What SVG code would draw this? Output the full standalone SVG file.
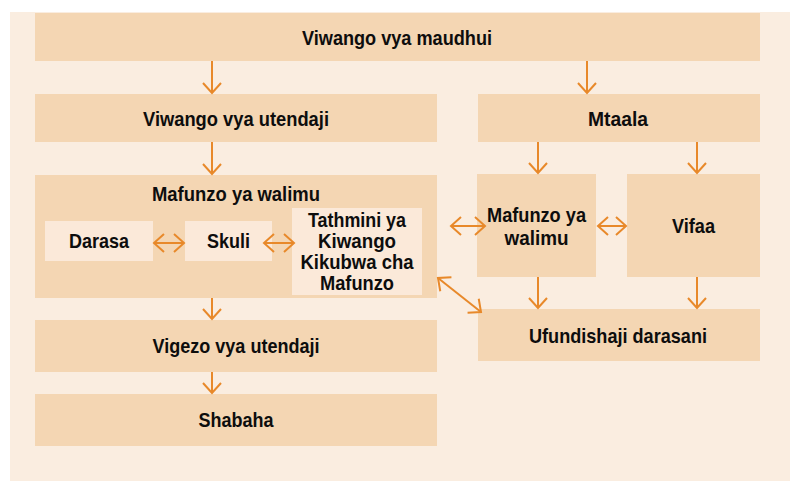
<svg xmlns="http://www.w3.org/2000/svg" width="790" height="481" viewBox="0 0 790 481">
<style>
.bg{fill:#FAEDE0}
.box{fill:#F4D6B3}
.inner{fill:#FBE9D9}
.t{font-family:"Liberation Sans",Arial,sans-serif;font-weight:bold;font-size:21px;fill:#0d0d0d;text-anchor:middle}
.c{stroke:#E8892A;stroke-width:2;fill:none}
</style>
<defs>
<marker id="ah" viewBox="-12 -11 14 22" markerWidth="14" markerHeight="22" refX="0" refY="0" markerUnits="userSpaceOnUse" orient="auto-start-reverse">
<path d="M-10,-9 L0,0 L-10,9" fill="none" stroke="#E8892A" stroke-width="2"/>
</marker>
</defs>
<rect class="bg" x="10" y="12" width="780" height="469"/>
<g id="n-maudhui"><rect class="box" x="35" y="13" width="725" height="48"/><text class="t" x="397" y="45" textLength="190" lengthAdjust="spacingAndGlyphs">Viwango vya maudhui</text></g>
<g id="n-utendaji"><rect class="box" x="35" y="94" width="402" height="48"/><text class="t" x="236" y="126" textLength="186" lengthAdjust="spacingAndGlyphs">Viwango vya utendaji</text></g>
<g id="n-mtaala"><rect class="box" x="478" y="94" width="282" height="48"/><text class="t" x="618" y="126" textLength="60" lengthAdjust="spacingAndGlyphs">Mtaala</text></g>
<g id="n-mafunzo-left"><rect class="box" x="35" y="175" width="402" height="123"/><text class="t" x="236" y="201" textLength="168" lengthAdjust="spacingAndGlyphs">Mafunzo ya walimu</text></g>
<g id="n-darasa"><rect class="inner" x="45" y="221" width="108" height="40"/><text class="t" x="99" y="248" textLength="60" lengthAdjust="spacingAndGlyphs">Darasa</text></g>
<g id="n-skuli"><rect class="inner" x="185" y="221" width="87" height="40"/><text class="t" x="228.5" y="248" textLength="43" lengthAdjust="spacingAndGlyphs">Skuli</text></g>
<g id="n-tathmini"><rect class="inner" x="292" y="208" width="130" height="87"/>
<text class="t" x="357" y="227" textLength="98" lengthAdjust="spacingAndGlyphs">Tathmini ya</text>
<text class="t" x="357" y="248" textLength="78" lengthAdjust="spacingAndGlyphs">Kiwango</text>
<text class="t" x="357" y="269" textLength="113" lengthAdjust="spacingAndGlyphs">Kikubwa cha</text>
<text class="t" x="357" y="290" textLength="74" lengthAdjust="spacingAndGlyphs">Mafunzo</text></g>
<g id="n-mafunzo-right"><rect class="box" x="477" y="174" width="119" height="103"/>
<text class="t" x="536.5" y="222" textLength="99" lengthAdjust="spacingAndGlyphs">Mafunzo ya</text>
<text class="t" x="536.5" y="245" textLength="64" lengthAdjust="spacingAndGlyphs">walimu</text></g>
<g id="n-vifaa"><rect class="box" x="627" y="174" width="133" height="103"/><text class="t" x="693.5" y="233" textLength="43" lengthAdjust="spacingAndGlyphs">Vifaa</text></g>
<g id="n-ufundishaji"><rect class="box" x="478" y="309" width="282" height="52"/><text class="t" x="618" y="343" textLength="178" lengthAdjust="spacingAndGlyphs">Ufundishaji darasani</text></g>
<g id="n-vigezo"><rect class="box" x="35" y="320" width="402" height="52"/><text class="t" x="236" y="353" textLength="167" lengthAdjust="spacingAndGlyphs">Vigezo vya utendaji</text></g>
<g id="n-shabaha"><rect class="box" x="35" y="394" width="402" height="52"/><text class="t" x="236" y="427" textLength="75" lengthAdjust="spacingAndGlyphs">Shabaha</text></g>
<g id="connectors">
<path class="c" d="M212,61 V93" marker-end="url(#ah)"/>
<path class="c" d="M587,61 V93" marker-end="url(#ah)"/>
<path class="c" d="M212,142 V174" marker-end="url(#ah)"/>
<path class="c" d="M538,142 V173" marker-end="url(#ah)"/>
<path class="c" d="M697,142 V173" marker-end="url(#ah)"/>
<path class="c" d="M212,298 V319" marker-end="url(#ah)"/>
<path class="c" d="M212,372 V393" marker-end="url(#ah)"/>
<path class="c" d="M538,277 V308" marker-end="url(#ah)"/>
<path class="c" d="M697,277 V308" marker-end="url(#ah)"/>
<path class="c" d="M154,243 H184" marker-start="url(#ah)" marker-end="url(#ah)"/>
<path class="c" d="M264,243 H294" marker-start="url(#ah)" marker-end="url(#ah)"/>
<path class="c" d="M451,226 H485" marker-start="url(#ah)" marker-end="url(#ah)"/>
<path class="c" d="M598,226 H626" marker-start="url(#ah)" marker-end="url(#ah)"/>
<path class="c" d="M438,278 L481,312" marker-start="url(#ah)" marker-end="url(#ah)"/>
</g>
</svg>
